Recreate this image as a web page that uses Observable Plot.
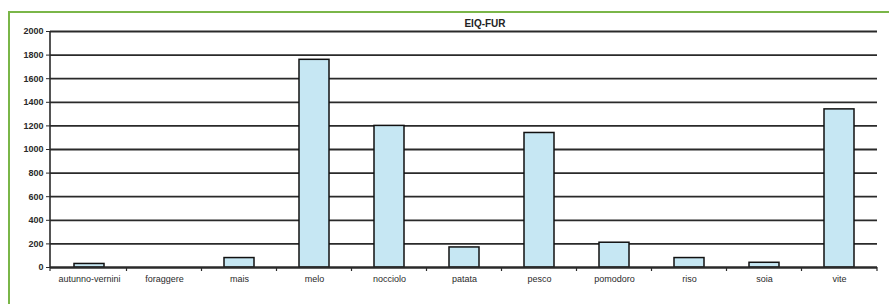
<!DOCTYPE html>
<html>
<head>
<meta charset="utf-8">
<script src="https://cdn.jsdelivr.net/npm/d3@7"></script>
<script src="https://cdn.jsdelivr.net/npm/@observablehq/plot@0.6"></script>
<style>
  html, body { margin: 0; padding: 0; background: #fff; overflow: hidden; }
  #wrap { position: relative; width: 889px; height: 304px; }
  #frame { position: absolute; left: 8px; top: 11px; width: 1000px; height: 400px;
           border-left: 2px solid #7ab648; border-top: 2px solid #7ab648; pointer-events: none; }
</style>
</head>
<body>
<div id="wrap"><div id="frame"></div></div>
<script>
const categories = ["autunno-vernini","foraggere","mais","melo","nocciolo","patata","pesco","pomodoro","riso","soia","vite"];
const values = [30, 0, 80, 1760, 1200, 170, 1140, 210, 80, 40, 1340];
const yTicks = [0, 200, 400, 600, 800, 1000, 1200, 1400, 1600, 1800, 2000];
const title = "EIQ-FUR";

const data = categories.map((c, i) => ({cat: c, value: values[i]}));

const axisLines = (index, scales, values, dimensions) => {
  const x = scales.x;
  const y = scales.y;
  const bw = x.bandwidth ? x.bandwidth() : 0;
  const g = d3.create("svg:g").attr("stroke", "#2a2a2a").attr("fill", "none");
  const y0 = y(0);
  const left = dimensions.marginLeft;
  const right = dimensions.width - dimensions.marginRight;
  g.append("line").attr("x1", left).attr("x2", left)
    .attr("y1", y(2000)).attr("y2", y0).attr("stroke-width", 1.6);
  const bounds = [left];
  for (let i = 1; i < categories.length; i++) {
    bounds.push((x(categories[i - 1]) + x(categories[i])) / 2 + bw / 2);
  }
  bounds.push(right);
  for (const b of bounds) {
    g.append("line").attr("x1", b).attr("x2", b).attr("y1", y0).attr("y2", y0 + 4).attr("stroke-width", 1.2);
  }
  return g.node();
};

const chart = Plot.plot({
  width: 889,
  height: 304,
  marginLeft: 50,
  marginRight: 12,
  marginTop: 31,
  marginBottom: 37,
  x: {domain: categories, paddingInner: 0.6, paddingOuter: 0.3, label: null},
  y: {domain: [0, 2000], ticks: yTicks, label: null},
  style: {fontFamily: "'Liberation Sans', Arial, sans-serif", fontSize: "9px", color: "#2a2a2a", background: "transparent"},
  marks: [
    Plot.gridY(yTicks, {stroke: "#2a2a2a", strokeOpacity: 1, strokeWidth: 1.8}),
    Plot.barY(data, {x: "cat", y: "value", fill: "#c6e7f3", stroke: "#111", strokeWidth: 1.5}),
    Plot.ruleY([0], {stroke: "#2a2a2a", strokeWidth: 1.8}),
    Plot.axisY(yTicks, {tickSize: 4, tickPadding: 3, tickFormat: "d", label: null, stroke: "#2a2a2a", fontWeight: "bold"}),
    Plot.axisX({tickSize: 0, tickPadding: 8, label: null}),
    axisLines,
    Plot.text([title], {frameAnchor: "top", dy: -12, dx: 21, fontWeight: "bold", fontSize: 10, fill: "#222"})
  ]
});
chart.style.position = "absolute";
chart.style.left = "0px";
chart.style.top = "0px";
document.getElementById("wrap").appendChild(chart);
</script>
</body>
</html>
